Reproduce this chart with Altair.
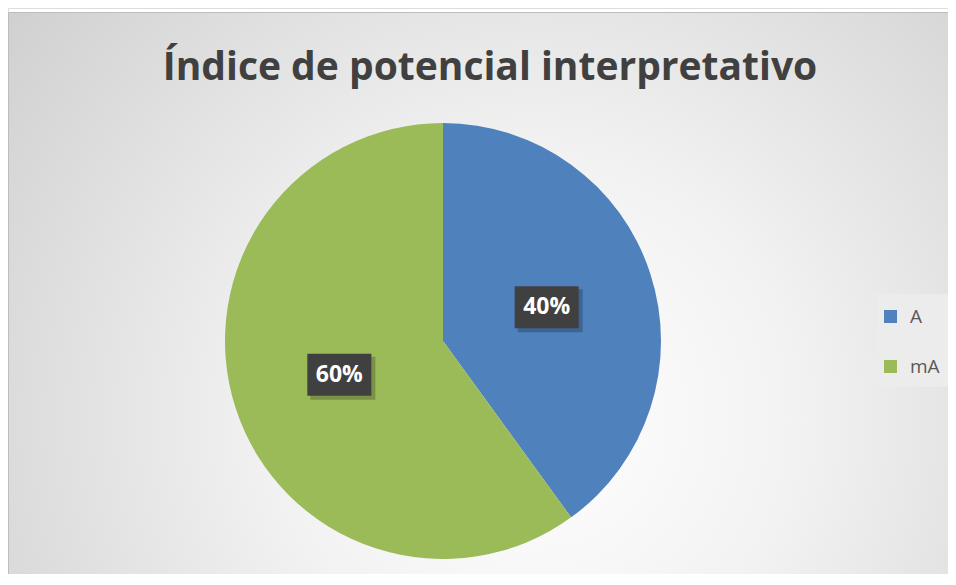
import altair as alt
import pandas as pd

# ---- data ----
categories = ["A", "mA"]
values = [40, 60]
labels = ["40%", "60%"]
slice_colors = ["#4F81BD", "#9BBB59"]
title_text = "Índice de potencial interpretativo"

W, H = 940, 566
CX, CY, R = 435, 333, 218

df = pd.DataFrame({"cat": categories, "val": values, "lab": labels, "ord": [0, 1]})
one = pd.DataFrame({"k": [0]})

bg = alt.Chart(one).mark_rect(
    color=alt.Gradient(
        gradient="radial",
        stops=[alt.GradientStop(color="#ffffff", offset=0),
               alt.GradientStop(color="#f2f2f2", offset=0.35),
               alt.GradientStop(color="#c9c9c9", offset=1)],
        x1=0.55, y1=0.62, r1=0, x2=0.55, y2=0.62, r2=0.78),
    stroke="#bdbdbd", strokeWidth=1,
).encode(x=alt.value(0.5), x2=alt.value(W + 20), y=alt.value(4.5), y2=alt.value(H + 20))

title = alt.Chart(one).mark_text(
    text=title_text, font="Open Sans", fontWeight="bold", fontSize=39,
    color="#404040", align="center", baseline="alphabetic",
).encode(x=alt.value(482), y=alt.value(72))

pie = alt.Chart(df).mark_arc(outerRadius=R).encode(
    theta=alt.Theta("val:Q", stack=True),
    order=alt.Order("ord:Q"),
    color=alt.Color("cat:N", scale=alt.Scale(domain=categories, range=slice_colors),
                    legend=alt.Legend(title=None, orient="none", legendX=873, legendY=299,
                                      symbolType="square", symbolSize=169, symbolStrokeWidth=0,
                                      labelFont="Open Sans", labelFontSize=19, labelColor="#595959",
                                      labelOffset=10, rowPadding=30, padding=0)),
    x=alt.value(CX), y=alt.value(CY),
)

base = alt.Chart(df).transform_joinaggregate(
    total="sum(val)"
).transform_window(
    cum="sum(val)", sort=[alt.SortField("ord")]
).transform_calculate(
    mid="(datum.cum - datum.val/2) / datum.total * 2 * PI",
).transform_calculate(
    px=f"{CX} + {R*0.5} * sin(datum.mid)",
    py=f"{CY} - {R*0.5} * cos(datum.mid)",
).transform_calculate(
    x1="datum.px - 32", x2="datum.px + 32", y1="datum.py - 21", y2="datum.py + 21",
    sx1="datum.px - 29", sx2="datum.px + 36", sy1="datum.py - 18", sy2="datum.py + 25",
)

shadow = base.mark_rect(color="#000000", opacity=0.22).encode(
    x=alt.X("sx1:Q", scale=None), x2="sx2:Q",
    y=alt.Y("sy1:Q", scale=None), y2="sy2:Q",
)
box = base.mark_rect(color="#404040").encode(
    x=alt.X("x1:Q", scale=None), x2="x2:Q",
    y=alt.Y("y1:Q", scale=None), y2="y2:Q",
)
txt = base.mark_text(font="Open Sans", fontWeight="bold", fontSize=23, color="#ffffff",
                     align="center", baseline="middle").encode(
    x=alt.X("px:Q", scale=None), y=alt.Y("py:Q", scale=None), text="lab:N",
)

legend_bg = alt.Chart(one).mark_rect(color="#ececec").encode(
    x=alt.value(869), x2=alt.value(W), y=alt.value(286), y2=alt.value(379))

chart = alt.layer(bg, legend_bg, title, pie, shadow, box, txt).properties(
    width=W, height=H, padding=0, autosize=alt.AutoSizeParams(type="none"),
).configure_view(stroke=None).configure(background="#ffffff")

chart.save("out.html", embed_options={"renderer": "svg", "actions": False})
